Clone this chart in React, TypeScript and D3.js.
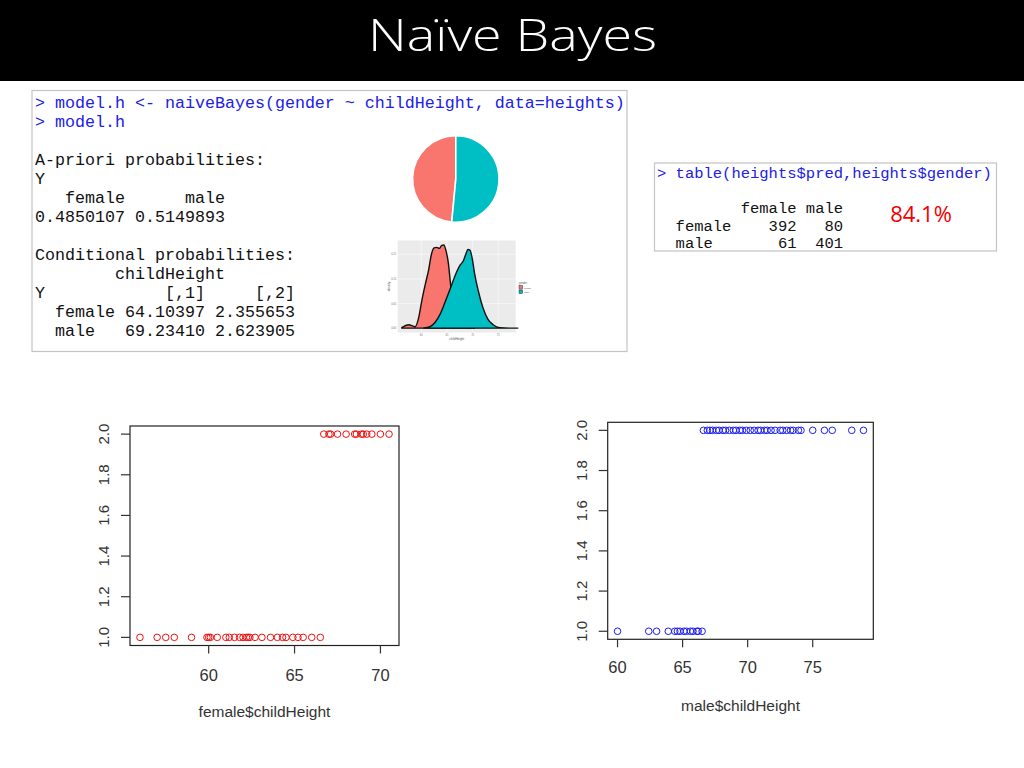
import React from "react";
import * as d3 from "d3";

// ---------- data ----------
const consoleLines: { text: string; cmd: boolean }[] = [
  { text: "> model.h <- naiveBayes(gender ~ childHeight, data=heights)", cmd: true },
  { text: "> model.h", cmd: true },
  { text: "", cmd: false },
  { text: "A-priori probabilities:", cmd: false },
  { text: "Y", cmd: false },
  { text: "   female      male ", cmd: false },
  { text: "0.4850107 0.5149893 ", cmd: false },
  { text: "", cmd: false },
  { text: "Conditional probabilities:", cmd: false },
  { text: "        childHeight", cmd: false },
  { text: "Y            [,1]     [,2]", cmd: false },
  { text: "  female 64.10397 2.355653", cmd: false },
  { text: "  male   69.23410 2.623905", cmd: false },
];

const tableLines: { text: string; cmd: boolean }[] = [
  { text: "> table(heights$pred,heights$gender)", cmd: true },
  { text: "", cmd: false },
  { text: "         female male", cmd: false },
  { text: "  female    392   80", cmd: false },
  { text: "  male       61  401", cmd: false },
];
const accuracyLabel = "84.1%";

const genders = ["female", "male"];
const priors = [0.4850107, 0.5149893];
const genderColors = ["#F8766D", "#00BFC4"];

// density curves
const femaleDensX = [56.2, 57.5, 58.8, 59.5, 60.1, 60.8, 61.4, 62.0, 62.5, 63.0, 63.5, 64.0, 64.4, 64.8, 65.3, 65.7, 66.2, 66.8, 67.5, 68.8, 70.5];
const femaleDensY = [0.001, 0.007, 0.003, 0.022, 0.056, 0.09, 0.117, 0.151, 0.163, 0.164, 0.162, 0.168, 0.169, 0.158, 0.13, 0.09, 0.056, 0.029, 0.008, 0.001, 0.0];
const maleDensX = [60.4, 61.7, 62.7, 63.7, 64.6, 65.6, 66.6, 67.5, 68.2, 68.7, 69.1, 69.5, 70.0, 70.4, 71.1, 72.0, 73.0, 74.0, 75.3, 77.2, 78.9];
const maleDensY = [0.0, 0.003, 0.012, 0.029, 0.052, 0.079, 0.107, 0.127, 0.137, 0.151, 0.16, 0.158, 0.137, 0.11, 0.076, 0.042, 0.018, 0.007, 0.001, 0.0, 0.0];
const densXDomain = [55.4, 78.4];
const densYDomain = [-0.0088, 0.178];
const densXTicks = [60, 65, 70, 75];
const densYTicks = [0, 0.05, 0.1, 0.15];

// scatter plots: childHeight by predicted class (1 / 2)
const femaleAt1 = [56, 57, 57.5, 58, 59, 59.9, 60, 60.1, 60.5, 61, 61.2, 61.5, 61.8, 62, 62.2, 62.3, 62.4, 62.7, 63.1, 63.6, 64, 64.3, 64.5, 64.9, 65.2, 65.5, 66, 66.5];
const femaleAt2 = [66.7, 67, 67.1, 67.5, 68, 68.5, 68.6, 68.9, 69, 69.2, 69.5, 70, 70.5];
const maleAt1 = [60, 62.4, 63, 63.9, 64.4, 64.6, 64.8, 65.1, 65.3, 65.6, 65.8, 66.1, 66.2, 66.5];
const maleAt2 = [66.6, 66.9, 67.1, 67.3, 67.6, 67.8, 68.1, 68.3, 68.6, 68.9, 69.1, 69.4, 69.6, 69.9, 70.2, 70.5, 70.8, 71, 71.3, 71.5, 71.8, 72.1, 72.5, 72.7, 73, 73.3, 73.5, 73.9, 74.1, 75, 75.9, 76.5, 78, 78.9];
const femaleXTicks = [60, 65, 70];
const maleXTicks = [60, 65, 70, 75];
const yTicks = [1.0, 1.2, 1.4, 1.6, 1.8, 2.0];

const MONO = "'Liberation Mono', 'DejaVu Sans Mono', monospace";
const SANS = "'Liberation Sans', Arial, sans-serif";
const CMD_BLUE = "#2020e8";

function Scatter(props: {
  at1: number[];
  at2: number[];
  color: string;
  x0: number; x1: number; y0: number; y1: number;
  xTicks: number[];
  title: string;
  labelBase: number;
  titleBase: number;
}) {
  const { at1, at2, color, x0, x1, y0, y1, xTicks, title, labelBase, titleBase } = props;
  const all = at1.concat(at2);
  const [mn, mx] = d3.extent(all) as [number, number];
  const pad = 0.04 * (mx - mn);
  const x = d3.scaleLinear().domain([mn - pad, mx + pad]).range([x0, x1]);
  const y = d3.scaleLinear().domain([1 - 0.04, 2 + 0.04]).range([y1, y0]);
  const pts = at1.map((v) => ({ v, c: 1 })).concat(at2.map((v) => ({ v, c: 2 })));
  return (
    <g>
      <rect x={x0} y={y0} width={x1 - x0} height={y1 - y0} fill="none" stroke="#222" strokeWidth={1.2} />
      {pts.map((p, i) => (
        <circle key={i} cx={x(p.v)} cy={y(p.c)} r={3.3} fill="none" stroke={color} strokeWidth={1} />
      ))}
      {xTicks.map((t) => (
        <g key={t}>
          <line x1={x(t)} x2={x(t)} y1={y1} y2={y1 + 8} stroke="#333" strokeWidth={1.2} />
          <text x={x(t)} y={labelBase} textAnchor="middle" fontFamily={SANS} fontSize={16.5} fill="#333">
            {t}
          </text>
        </g>
      ))}
      {yTicks.map((t) => (
        <g key={t}>
          <line x1={x0 - 9} x2={x0} y1={y(t)} y2={y(t)} stroke="#333" strokeWidth={1.2} />
          <text
            transform={`translate(${x0 - 21},${y(t)}) rotate(-90)`}
            textAnchor="middle"
            fontFamily={SANS}
            fontSize={15}
            fill="#333"
          >
            {t.toFixed(1)}
          </text>
        </g>
      ))}
      <text x={(x0 + x1) / 2} y={titleBase} textAnchor="middle" fontFamily={SANS} fontSize={15.5} fill="#333">
        {title}
      </text>
    </g>
  );
}

function Pie() {
  const cx = 455.8, cy = 179, r = 43.2;
  const arcs = d3.pie<number>().sort(null).startAngle(0).endAngle(-2 * Math.PI)(priors);
  const arc = d3.arc<d3.PieArcDatum<number>>().innerRadius(0).outerRadius(r);
  return (
    <g transform={`translate(${cx},${cy})`}>
      {arcs.map((a, i) => (
        <path key={genders[i]} d={arc(a) || ""} fill={genderColors[i]} stroke="#fff" strokeWidth={1.6} />
      ))}
    </g>
  );
}

function Density() {
  const px0 = 397.7, px1 = 515.7, py0 = 240.5, py1 = 332.5;
  const x = d3.scaleLinear().domain(densXDomain).range([px0, px1]);
  const y = d3.scaleLinear().domain(densYDomain).range([py1, py0]);
  const area = d3
    .area<[number, number]>()
    .x((d) => x(d[0]))
    .y0(y(0))
    .y1((d) => y(d[1]))
    .curve(d3.curveMonotoneX);
  const line = d3
    .line<[number, number]>()
    .x((d) => x(d[0]))
    .y((d) => y(d[1]))
    .curve(d3.curveMonotoneX);
  const fem = femaleDensX.map((v, i) => [v, femaleDensY[i]] as [number, number]);
  const mal = maleDensX.map((v, i) => [v, maleDensY[i]] as [number, number]);
  const series = [fem, mal];
  return (
    <g>
      <rect x={px0} y={py0} width={px1 - px0} height={py1 - py0} fill="#EBEBEB" />
      {densXTicks.map((t) => (
        <line key={"gx" + t} x1={x(t)} x2={x(t)} y1={py0} y2={py1} stroke="#fff" strokeWidth={0.5} />
      ))}
      {densYTicks.map((t) => (
        <line key={"gy" + t} x1={px0} x2={px1} y1={y(t)} y2={y(t)} stroke="#fff" strokeWidth={0.5} />
      ))}
      {series.map((s, i) => (
        <g key={genders[i]}>
          <path d={area(s) || ""} fill={genderColors[i]} />
          <path
            d={(line(s) || "") + `L${x(s[s.length - 1][0])},${y(0)}L${x(s[0][0])},${y(0)}Z`}
            fill="none"
            stroke="#111"
            strokeWidth={1.4}
          />
        </g>
      ))}
      {densXTicks.map((t) => (
        <text key={"lx" + t} x={x(t)} y={py1 + 3.5} fontSize={2.6} fill="#777" textAnchor="middle" fontFamily={SANS}>
          {t}
        </text>
      ))}
      {densYTicks.map((t) => (
        <text key={"ly" + t} x={px0 - 1.5} y={y(t) + 1} fontSize={2.6} fill="#777" textAnchor="end" fontFamily={SANS}>
          {t.toFixed(2)}
        </text>
      ))}
      <text x={(px0 + px1) / 2} y={py1 + 7} fontSize={3} fill="#555" textAnchor="middle" fontFamily={SANS}>
        childHeight
      </text>
      <text transform={`translate(${px0 - 8},${(py0 + py1) / 2}) rotate(-90)`} fontSize={3} fill="#555" textAnchor="middle" fontFamily={SANS}>
        density
      </text>
      <text x={519} y={284} fontSize={2.6} fill="#555" fontFamily={SANS}>gender</text>
      {genders.map((g, i) => (
        <g key={"lg" + g}>
          <rect x={519} y={285.5 + i * 4.5} width={3.6} height={3.6} fill={genderColors[i]} stroke="#111" strokeWidth={0.4} />
          <text x={524} y={288.5 + i * 4.5} fontSize={2.4} fill="#555" fontFamily={SANS}>{g}</text>
        </g>
      ))}
    </g>
  );
}

export default function App() {
  return (
    <svg
      width={1024}
      height={768}
      viewBox="0 0 1024 768"
      style={{ position: "absolute", left: 0, top: 0, display: "block", background: "#fff" }}
    >
      <rect x={0} y={0} width={1024} height={768} fill="#fff" />
      {/* title bar */}
      <rect x={0} y={0} width={1024} height={81} fill="#000" />
      <text
        x={368}
        y={51}
        textLength={289}
        lengthAdjust="spacingAndGlyphs"
        fill="#fff"
        fontFamily="'Open Sans', sans-serif"
        fontWeight={300}
        fontSize={45}
      >
        Naïve Bayes
      </text>

      {/* R console box */}
      <rect x={32} y={90.5} width={595} height={261} fill="#fff" stroke="#c4c4c4" strokeWidth={1.2} />
      {consoleLines.map((l, i) => (
        <text
          key={i}
          x={35}
          y={107.5 + i * 19}
          fontFamily={MONO}
          fontSize={16.67}
          fill={l.cmd ? CMD_BLUE : "#111"}
          style={{ whiteSpace: "pre" }}
          xmlSpace="preserve"
        >
          {l.text}
        </text>
      ))}
      <Pie />
      <Density />

      {/* confusion table box */}
      <rect x={654.5} y={163} width={342} height={88} fill="#fff" stroke="#c4c4c4" strokeWidth={1.2} />
      {tableLines.map((l, i) => (
        <text
          key={i}
          x={657}
          y={177.5 + i * 17.7}
          fontFamily={MONO}
          fontSize={15.5}
          fill={l.cmd ? CMD_BLUE : "#111"}
          style={{ whiteSpace: "pre" }}
          xmlSpace="preserve"
        >
          {l.text}
        </text>
      ))}
      <text x={921} y={222} textAnchor="middle" fontFamily="'Open Sans', sans-serif" fontSize={22} fill="#f00000">
        {accuracyLabel}
      </text>

      <Scatter
        at1={femaleAt1}
        at2={femaleAt2}
        color="#ee1010"
        x0={130}
        x1={399}
        y0={426}
        y1={645.5}
        xTicks={femaleXTicks}
        title="female$childHeight"
        labelBase={681}
        titleBase={717}
      />
      <Scatter
        at1={maleAt1}
        at2={maleAt2}
        color="#1c1cf0"
        x0={607.7}
        x1={873.3}
        y0={422.3}
        y1={639.3}
        xTicks={maleXTicks}
        title="male$childHeight"
        labelBase={673}
        titleBase={711}
      />
    </svg>
  );
}
